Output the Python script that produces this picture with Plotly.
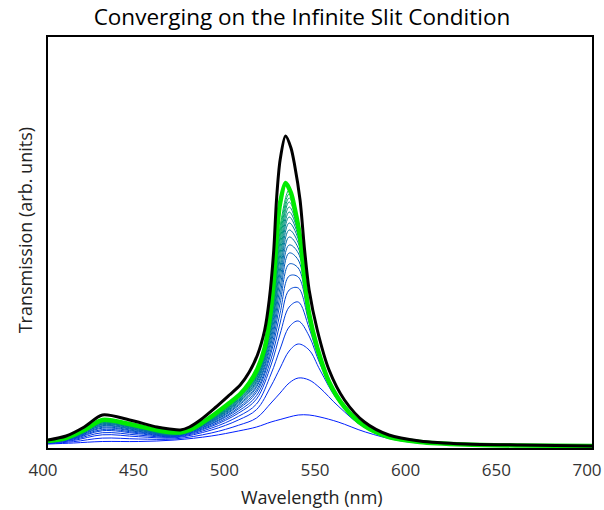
import plotly.graph_objects as go

# ---------------- data ----------------
WL_FINE = [400, 410, 420, 430, 445, 460, 467, 473, 478, 484, 492, 500, 506, 511, 515.5,
           519.5, 522, 524.5, 526, 528, 531, 534, 536, 539, 541.5, 544, 548.5, 555,
           563.5, 574.5, 588, 605, 630, 660, 700]

INFINITE_SLIT = [8, 12, 21, 33, 28, 21, 19, 18, 21, 28, 40, 53, 63, 76, 93,
                 118, 148, 198, 248, 288, 312, 300, 283, 248, 198, 158, 118, 78,
                 48, 26, 13, 7, 4, 3, 2]

NARROWEST_SLIT = [7, 10, 18, 28, 24, 18, 16, 15.5, 18, 24, 34, 45, 54, 65, 79,
                  100, 126, 168, 210, 245, 265, 255, 240, 211, 168, 134, 100, 66,
                  41, 22, 11, 6, 3.5, 2.5, 2]

WL_SLITS = [400, 414, 430, 450, 470, 490, 505, 515, 523, 528, 533, 538, 544, 550,
            560, 575, 595, 630, 700]

SLIT_SERIES = [
    [4.0, 5.0, 6.5, 6.5, 8.0, 12.0, 17.0, 21.0, 26.0, 28.5, 31.0, 33.0, 33.0, 31.0, 26.0, 16.0, 7.0, 2.5, 1.5],
    [4.5, 6.3, 9.9, 9.0, 9.1, 15.0, 22.7, 30.0, 45.0, 55.0, 65.0, 70.0, 68.0, 60.0, 42.0, 20.0, 8.5, 3.0, 1.7],
    [4.9, 7.5, 13.2, 11.3, 10.2, 17.9, 28.0, 38.4, 62.0, 80.0, 97.0, 104.0, 98.0, 78.0, 47.0, 21.0, 9.0, 3.5, 2.0],
    [5.2, 8.3, 15.3, 12.9, 10.9, 19.8, 31.6, 44.0, 74.0, 99.0, 121.0, 127.0, 112.0, 84.0, 48.5, 21.5, 9.0, 3.5, 2.0],
    [5.5, 9.0, 17.3, 14.3, 11.5, 21.5, 34.8, 49.0, 83.0, 114.0, 141.0, 146.0, 120.0, 87.0, 49.0, 22.0, 9.0, 3.5, 2.0],
    [5.7, 9.5, 18.5, 15.2, 11.9, 22.6, 36.9, 52.4, 89.0, 125.0, 158.0, 160.0, 125.0, 89.0, 49.5, 22.0, 9.0, 3.5, 2.0],
    [5.9, 10.0, 19.8, 16.1, 12.3, 23.8, 39.0, 55.7, 95.0, 135.0, 172.0, 171.0, 128.0, 90.0, 50.0, 22.0, 9.0, 3.5, 2.0],
    [6.0, 10.3, 20.7, 16.7, 12.6, 24.5, 40.4, 58.0, 99.0, 145.0, 184.0, 180.0, 130.0, 91.0, 50.0, 22.0, 9.0, 3.5, 2.0],
    [6.1, 10.7, 21.8, 17.5, 13.0, 25.5, 42.2, 60.8, 104.0, 153.0, 195.0, 188.0, 131.0, 91.0, 50.0, 22.0, 9.0, 3.5, 2.0],
    [6.2, 10.9, 22.4, 18.0, 13.2, 26.1, 43.3, 62.4, 108.0, 161.0, 203.0, 195.0, 132.0, 92.0, 50.0, 22.0, 9.0, 3.5, 2.0],
    [6.3, 11.2, 23.3, 18.6, 13.5, 26.8, 44.7, 64.7, 112.0, 169.0, 211.0, 200.0, 133.0, 92.0, 50.0, 22.0, 9.0, 3.5, 2.0],
    [6.4, 11.5, 23.9, 19.1, 13.7, 27.4, 45.8, 66.4, 116.0, 176.0, 218.0, 205.0, 133.0, 92.0, 50.0, 22.0, 9.0, 3.5, 2.0],
    [6.5, 11.6, 24.3, 19.4, 13.8, 27.8, 46.5, 67.5, 119.0, 182.0, 225.0, 209.0, 134.0, 92.0, 50.0, 22.0, 9.0, 3.5, 2.0],
    [6.6, 11.9, 25.0, 19.8, 14.0, 28.3, 47.5, 69.2, 122.0, 189.0, 231.0, 212.0, 134.0, 92.0, 50.0, 22.0, 9.0, 3.5, 2.0],
    [6.6, 12.0, 25.4, 20.1, 14.2, 28.7, 48.2, 70.3, 125.0, 195.0, 236.0, 215.0, 134.0, 92.0, 50.0, 22.0, 9.0, 3.5, 2.0],
    [6.7, 12.2, 25.9, 20.5, 14.3, 29.1, 49.0, 71.4, 127.0, 201.0, 241.0, 217.0, 134.0, 92.0, 50.0, 22.0, 9.0, 3.5, 2.0],
    [6.8, 12.4, 26.3, 20.8, 14.4, 29.5, 49.7, 72.5, 129.0, 207.0, 246.0, 219.0, 134.0, 92.0, 50.0, 22.0, 9.0, 3.5, 2.0],
    [6.8, 12.5, 26.7, 21.1, 14.6, 29.9, 50.4, 73.6, 131.0, 212.0, 250.0, 220.0, 134.0, 92.0, 50.0, 22.0, 9.0, 3.5, 2.0],
    [6.9, 12.6, 27.0, 21.2, 14.7, 30.1, 50.7, 74.2, 133.0, 217.0, 254.0, 221.0, 134.0, 92.0, 50.0, 22.0, 9.0, 3.5, 2.0],
    [6.9, 12.8, 27.4, 21.5, 14.8, 30.4, 51.4, 75.3, 135.0, 222.0, 258.0, 222.0, 134.0, 92.0, 50.0, 22.0, 9.0, 3.5, 2.0],
]

X_TICKS = [400, 450, 500, 550, 600, 650, 700]

TITLE = "Converging on the Infinite Slit Condition"
X_TITLE = "Wavelength (nm)"
Y_TITLE = "Transmission (arb. units)"

# ---------------- figure ----------------
FONT = "Open Sans, Noto Sans, sans-serif"
fig = go.Figure()

n = len(SLIT_SERIES)
for i, ys in enumerate(SLIT_SERIES):
    f = i / (n - 1) if n > 1 else 0
    g = int(round(30 + 150 * f))
    b = int(round(255 - 165 * f))
    fig.add_trace(go.Scatter(
        x=WL_SLITS, y=ys, mode="lines",
        line=dict(color=f"rgb(0,{g},{b})", width=1, shape="spline", smoothing=1.0),
        hoverinfo="skip", showlegend=False,
    ))

fig.add_trace(go.Scatter(
    x=WL_FINE, y=NARROWEST_SLIT, mode="lines",
    line=dict(color="rgb(0,235,0)", width=4.5, shape="spline", smoothing=0.8),
    hoverinfo="skip", showlegend=False,
))
fig.add_trace(go.Scatter(
    x=WL_FINE, y=INFINITE_SLIT, mode="lines",
    line=dict(color="black", width=3, shape="spline", smoothing=0.8),
    hoverinfo="skip", showlegend=False,
))

fig.update_layout(
    width=604, height=510,
    margin=dict(l=48, r=12, t=37, b=62, autoexpand=False),
    paper_bgcolor="white", plot_bgcolor="white",
    title=dict(text=TITLE, x=0.5, xanchor="center", y=0.966, yanchor="middle",
               font=dict(family=FONT, size=22.5, color="black")),
    font=dict(family=FONT, color="#222"),
    annotations=[
        dict(text=X_TITLE, xref="paper", yref="paper", x=0.485, y=-0.119,
             xanchor="center", yanchor="middle", showarrow=False,
             font=dict(family=FONT, size=18, color="#222")),
        dict(text=Y_TITLE, xref="paper", yref="paper", x=-0.042, y=0.53,
             xanchor="center", yanchor="middle", showarrow=False, textangle=-90,
             font=dict(family=FONT, size=18, color="#222")),
    ],
)
fig.update_xaxes(
    range=[400, 700], tickvals=X_TICKS, ticktext=[str(v) for v in X_TICKS],
    showgrid=False, zeroline=False, ticks="outside", ticklen=5,
    tickcolor="rgba(0,0,0,0)", showline=True, mirror=True, automargin=False,
    ticklabeloverflow="allow", ticklabelshift=-5,
    linecolor="black", linewidth=2.2, tickfont=dict(size=17, color="#333"),
)
fig.update_yaxes(
    range=[0, 411], showticklabels=False, showgrid=False, zeroline=False, ticks="",
    showline=True, mirror=True, automargin=False, linecolor="black", linewidth=2.2,
)

fig.write_html("out.html")
